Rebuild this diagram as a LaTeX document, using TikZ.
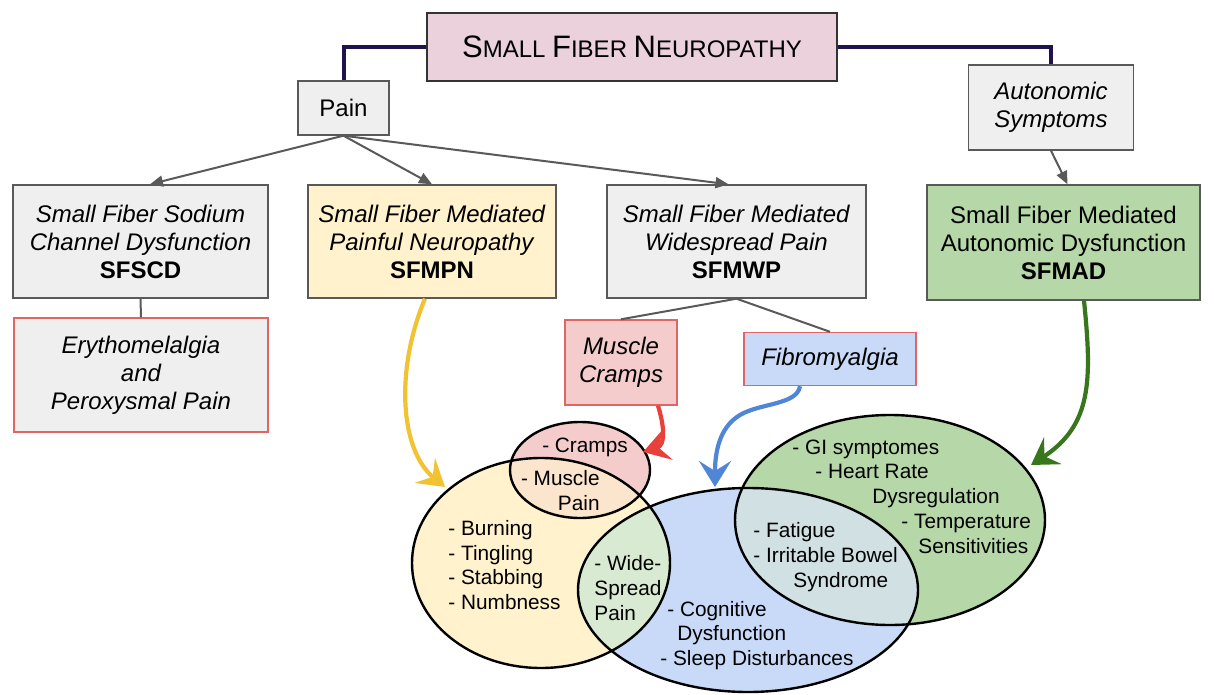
\documentclass[tikz,border=0pt]{standalone}
\usepackage{fontspec}
\setmainfont{Liberation Sans}
\usetikzlibrary{arrows.meta}

\definecolor{titlepink}{HTML}{EAD1DC}
\definecolor{boxgray}{HTML}{EFEFEF}
\definecolor{boxyellow}{HTML}{FFF2CC}
\definecolor{boxgreen}{HTML}{B6D7A8}
\definecolor{boxpink}{HTML}{F4CCCC}
\definecolor{boxblue}{HTML}{C9DAF8}
\definecolor{edgegray}{HTML}{595959}
\definecolor{edgered}{HTML}{E06666}
\definecolor{navyline}{HTML}{20124D}
\definecolor{peach}{HTML}{FCE5CD}
\definecolor{mint}{HTML}{D9EAD3}
\definecolor{lightteal}{HTML}{D0E0E3}
\definecolor{arrowyellow}{HTML}{F1C232}
\definecolor{arrowred}{HTML}{E8403A}
\definecolor{arrowblue}{HTML}{4F86D6}
\definecolor{arrowgreen}{HTML}{38761D}

% fake small caps for the title
\newcommand{\scword}[2]{{\fontsize{15.5}{18}\selectfont #1}{\fontsize{12}{18}\selectfont #2}}

% the four sets of the venn part
\newcommand{\painset}{(541,563) ellipse [x radius=64.5pt, y radius=52.5pt]}
\newcommand{\crampset}{(580,470) ellipse [x radius=35pt, y radius=24pt]}
\newcommand{\fibroset}{(748,590) ellipse [x radius=85pt, y radius=51pt]}
\newcommand{\autoset}{(890,520) ellipse [x radius=77.5pt, y radius=52.5pt]}

\tikzset{
  box/.style={draw=edgegray, fill=boxgray, line width=0.7pt, inner sep=0pt, align=center, font=\fontsize{12}{14}\selectfont},
  redbox/.style={box, draw=edgered},
  venntext/.style={inner sep=0pt, align=left, font=\fontsize{10.4}{12.35}\selectfont},
  arrow/.style={edgegray, line width=1pt, ->},
  hook/.style={line width=2.1pt, -{Stealth[length=13pt, width=16pt, inset=5pt]}},
  venn/.style={line width=1.2pt}
}

\begin{document}
\begin{tikzpicture}[x=0.5pt, y=-0.5pt, >={Triangle[length=6.5pt, width=5.5pt]}]
    \useasboundingbox (0,0) rectangle (1214,695);

    \node[box, fill=titlepink, draw=black!80, minimum width=205pt, minimum height=34pt] (sfn) at (632,47) {\scword{S}{MALL} \scword{F}{IBER} \scword{N}{EUROPATHY}}; % title
    \node[box, minimum width=45.5pt, minimum height=27pt] (pain) at (343.5,108) {Pain};
    \node[box, minimum width=82.5pt, minimum height=42.5pt, font=\fontsize{12}{14}\selectfont\itshape] (auto) at (1051,107.5) {Autonomic\\Symptoms};

    \node[box, minimum width=127.5pt, minimum height=56.5pt] (sfscd) at (140.5,241.5) {\textit{Small Fiber Sodium}\\\textit{Channel Dysfunction}\\\textbf{SFSCD}};
    \node[box, fill=boxyellow, minimum width=124pt, minimum height=56.5pt] (sfmpn) at (432,241.5) {\textit{Small Fiber Mediated}\\\textit{Painful Neuropathy}\\\textbf{SFMPN}};
    \node[box, minimum width=129.5pt, minimum height=56.5pt] (sfmwp) at (736.5,241.5) {\textit{Small Fiber Mediated}\\\textit{Widespread Pain}\\\textbf{SFMWP}};
    \node[box, fill=boxgreen, minimum width=136.5pt, minimum height=57.5pt] (sfmad) at (1063.5,242.5) {Small Fiber Mediated\\Autonomic Dysfunction\\\textbf{SFMAD}};

    \node[redbox, minimum width=127pt, minimum height=57pt, font=\fontsize{12}{14}\selectfont\itshape] (erythro) at (141,375) {Erythomelalgia\\and\\Peroxysmal Pain};
    \node[redbox, fill=boxpink, minimum width=56pt, minimum height=42.5pt, font=\fontsize{12}{14}\selectfont\itshape] (cramps) at (621,362.5) {Muscle\\Cramps};
    \node[redbox, fill=boxblue, minimum width=86pt, minimum height=26.5pt, font=\fontsize{12}{14}\selectfont\itshape] (fibro) at (830,359) {Fibromyalgia};

    \draw[navyline, line width=2pt] (sfn.west) -| (pain.north); % left branch
    \draw[navyline, line width=2pt] (sfn.east) -| (auto.north); % right branch
    \draw[arrow] (pain.south) -- ([xshift=4.75pt]sfscd.north);
    \draw[arrow] (pain.south) -- (sfmpn.north);
    \draw[arrow] (pain.south) -- ([xshift=-4pt]sfmwp.north);
    \draw[arrow] (auto.south) -- ([xshift=2pt]sfmad.north);
    \draw[edgegray, line width=1pt] (sfscd.south) -- (erythro.north);
    \draw[edgegray, line width=1pt] (sfmwp.south) -- (cramps.north);
    \draw[edgegray, line width=1pt] (sfmwp.south) -- (fibro.north);

    % venn fills
    \fill[boxyellow] \painset;
    \fill[boxpink] \crampset;
    \fill[boxblue] \fibroset;
    \fill[boxgreen] \autoset;
    \begin{scope}
      \clip \painset;
      \fill[peach] \crampset;
      \fill[mint] \fibroset;
    \end{scope}
    \begin{scope}
      \clip \fibroset;
      \fill[lightteal] \autoset;
    \end{scope}
    \draw[venn] \painset;
    \draw[venn] \crampset;
    \draw[venn] \fibroset;
    \draw[venn] \autoset;

    \node[venntext] (crampstxt) at (585,447) {- Cramps};
    \node[venntext, align=right, anchor=east] (muscletxt) at (600,490.5) {- Muscle\\Pain};
    \node[venntext, anchor=west] (burntxt) at (448,565) {- Burning\\- Tingling\\- Stabbing\\- Numbness};
    \node[venntext, anchor=west] (widetxt) at (594,588) {- Wide-\\Spread\\Pain};
    \node[venntext, anchor=west] (cogtxt) at (660,635.5) {\hspace*{3.5pt}- Cognitive\\\hspace*{8.5pt}Dysfunction\\- Sleep Disturbances};
    \node[venntext, anchor=west] (fattxt) at (753,557) {- Fatigue\\- Irritable Bowel\\\hspace*{20pt}Syndrome};
    \node[venntext, anchor=west] (gitxt) at (792,496.5) {- GI symptomes\\\hspace*{11.5pt}- Heart Rate\\\hspace*{40pt}Dysregulation\\\hspace*{54.5pt}- Temperature\\\hspace*{63pt}Sensitivities};

    % curved arrows into the sets
    \coordinate (paintip) at (445,487);
    \coordinate (cramptip) at (643,452);
    \coordinate (fibrotip) at (715,487);
    \coordinate (autotip) at (1031,465);
    \draw[hook, arrowyellow] ([xshift=-3.5pt]sfmpn.south) .. controls (395,370) and (400,450) .. (paintip);
    \draw[hook, arrowred] ([xshift=18.5pt]cramps.south) .. controls (664,425) and (666,445) .. (cramptip);
    \draw[hook, arrowblue] ([xshift=-15pt]fibro.south) .. controls (797,405) and (760,403) .. (740,415) .. controls (718,428) and (715,455) .. (fibrotip);
    \draw[hook, arrowgreen] ([xshift=10.25pt]sfmad.south) .. controls (1092,380) and (1092,425) .. (autotip);
\end{tikzpicture}
\end{document}
